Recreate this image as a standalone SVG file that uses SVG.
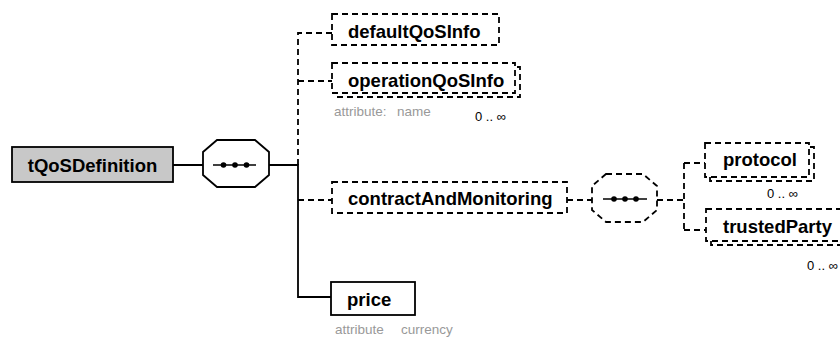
<svg xmlns="http://www.w3.org/2000/svg" width="840" height="338" viewBox="0 0 840 338">
<style>
.box{fill:#fff;stroke:#000;stroke-width:1.8}
.opt{stroke-dasharray:6,4}
.lbl{font-family:"Liberation Sans",Arial,sans-serif;font-weight:bold;font-size:18.5px;fill:#000}
.sm{font-family:"Liberation Sans",Arial,sans-serif;font-size:13.5px;fill:#999}
.card{font-family:"Liberation Sans",Arial,sans-serif;font-size:13px;fill:#000}
.ln{fill:none;stroke:#000;stroke-width:1.8}
</style>
<rect width="840" height="338" fill="#fff"/>
<g id="connectors">
<path class="ln" d="M173,165H203M269,165H298V297H331"/>
<path class="ln opt" d="M298,165V33H332M298,81H332M298,200H332"/>
<path class="ln opt" d="M567,200H592M657,200H684M684,163V230M684,163H705M684,230H706"/>
</g>
<g id="tQoSDefinition">
<rect x="12" y="147" width="161" height="35" fill="#c8c8c8" stroke="#000" stroke-width="1.8"/>
<text class="lbl" x="92.5" y="172" text-anchor="middle">tQoSDefinition</text>
</g>
<g id="sequence1">
<polygon class="box" points="217,140 255,140 269,152 269,175 255,187 217,187 203,175 203,152"/>
<line x1="213" y1="165" x2="256" y2="165" stroke="#000" stroke-width="1.6"/>
<circle cx="223.5" cy="165" r="2.8"/><circle cx="235" cy="165" r="2.8"/><circle cx="246.5" cy="165" r="2.8"/>
</g>
<g id="defaultQoSInfo">
<rect class="box opt" x="332" y="14" width="167" height="31"/>
<text class="lbl" x="348" y="38">defaultQoSInfo</text>
</g>
<g id="operationQoSInfo">
<rect class="box opt" x="337" y="67" width="183" height="30"/>
<rect class="box opt" x="332" y="63" width="183" height="30"/>
<text class="lbl" x="348" y="87">operationQoSInfo</text>
<text class="sm" x="334" y="116">attribute:</text>
<text class="sm" x="397" y="116">name</text>
<text class="card" x="475" y="121">0 .. ∞</text>
</g>
<g id="contractAndMonitoring">
<rect class="box opt" x="332" y="182" width="235" height="31"/>
<text class="lbl" x="348" y="205">contractAndMonitoring</text>
</g>
<g id="sequence2">
<polygon class="box opt" points="606,174 643,174 657,186 657,210 643,222 606,222 592,210 592,186"/>
<line x1="603" y1="199" x2="647" y2="199" stroke="#000" stroke-width="1.6"/>
<circle cx="614" cy="199" r="2.8"/><circle cx="625" cy="199" r="2.8"/><circle cx="636" cy="199" r="2.8"/>
</g>
<g id="protocol">
<rect class="box opt" x="710" y="147" width="104" height="34"/>
<rect class="box opt" x="705" y="143" width="104" height="34"/>
<text class="lbl" x="723" y="166">protocol</text>
<text class="card" x="767" y="198">0 .. ∞</text>
</g>
<g id="trustedParty">
<rect class="box opt" x="711" y="213" width="150" height="32"/>
<rect class="box opt" x="706" y="209" width="150" height="32"/>
<text class="lbl" x="723" y="233">trustedParty</text>
<text class="card" x="807" y="270">0 .. ∞</text>
</g>
<g id="price">
<rect class="box" x="331" y="282" width="84" height="33"/>
<text class="lbl" x="347" y="306">price</text>
<text class="sm" x="335" y="334">attribute</text>
<text class="sm" x="401" y="334">currency</text>
</g>
</svg>
